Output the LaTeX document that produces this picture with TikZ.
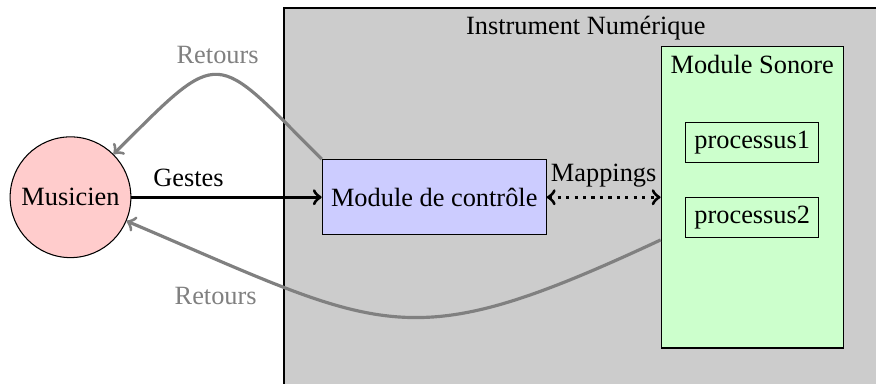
\documentclass[tikz,border=0pt]{standalone}
\usepackage{fontspec}
\setmainfont{Liberation Serif}
\usepackage{amsmath,amssymb}

\begin{document}
\begin{tikzpicture}[
        boite/.style={draw, rectangle},
        retour/.style={->, very thick, gray},
    ]
        \useasboundingbox (0, 0) rectangle (11.68, 5.12);

        \draw[fill=gray!40] (3.787, -0.3) rectangle (12, 5.013);
        \node (instrument) at (7.81, 4.75) {Instrument Numérique};

        \node[draw, circle, fill=red!20, minimum size=1.61cm, inner sep=0pt] (musicien) at (0.94, 2.49) {Musicien};
        \node[boite, fill=blue!20, minimum height=1cm] (controle) at (5.79, 2.49) {Module de contrôle};
        \node[boite, fill=green!20, minimum width=2.43cm, minimum height=4.02cm] (sonore) at (10.03, 2.49) {};
        \node[below] (sonoretitre) at (sonore.north) {Module Sonore};
        \node[boite] (proc1) at (10.03, 3.22) {processus1};
        \node[boite] (proc2) at (10.03, 2.22) {processus2};

        \draw[->, very thick] (musicien) -- node[above, pos=0.3] (gestes) {Gestes} (controle);
        \draw[<->, very thick, dotted] (controle) -- node[above] (mappings) {Mappings} (sonore);

        \draw[retour] (controle.north west) to[out=135, in=45, looseness=1.9] node[above] (retour1) {Retours} (musicien);
        \draw[retour] (sonore) to[out=205, in=-23, looseness=1.35] node[pos=0.8, below left, xshift=0.13cm] (retour2) {Retours} (musicien);
    \end{tikzpicture}
\end{document}
